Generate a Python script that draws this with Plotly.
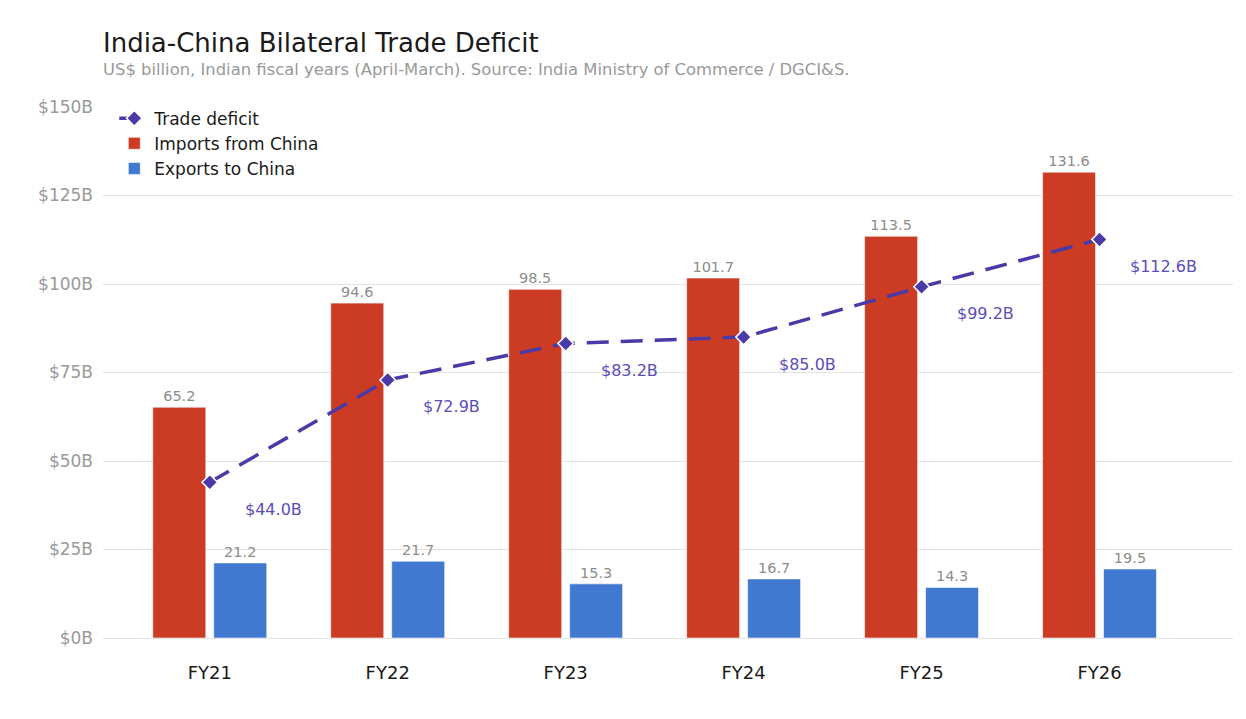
import plotly.graph_objects as go

# India-China trade, US$ billion
years = ["FY21", "FY22", "FY23", "FY24", "FY25", "FY26"]
imports_from_china = [65.2, 94.6, 98.5, 101.7, 113.5, 131.6]
exports_to_china = [21.2, 21.7, 15.3, 16.7, 14.3, 19.5]
trade_deficit = [44.0, 72.9, 83.2, 85.0, 99.2, 112.6]
y_ticks = [0, 25, 50, 75, 100, 125, 150]

FONT = "DejaVu Sans"
RED = "#cc3b23"
BLUE = "#4178d0"
PURPLE = "#4a3aa8"

fig = go.Figure()

fig.add_trace(go.Bar(
    x=years, y=imports_from_china, name="Imports from China",
    marker=dict(color=RED, line=dict(color="rgba(255,255,255,0.6)", width=1)),
    texttemplate="%{y:.1f}", textposition="outside",
    textfont=dict(size=14.5, color="#8c8c8c", family=FONT),
    cliponaxis=False, legendrank=2,
))
fig.add_trace(go.Bar(
    x=years, y=exports_to_china, name="Exports to China",
    marker=dict(color=BLUE, line=dict(color="rgba(255,255,255,0.6)", width=1)),
    texttemplate="%{y:.1f}", textposition="outside",
    textfont=dict(size=14.5, color="#8c8c8c", family=FONT),
    cliponaxis=False, legendrank=3,
))
fig.add_trace(go.Scatter(
    x=years, y=trade_deficit, name="Trade deficit",
    mode="lines+markers",
    line=dict(color=PURPLE, width=3.5, dash="22px,12px"),
    marker=dict(symbol="diamond", size=12, color=PURPLE, line=dict(color="white", width=1.5)),
    legendrank=1,
))

# deficit labels, offset right and below each marker
for yr, val in zip(years, trade_deficit):
    fig.add_annotation(
        x=yr, y=val, text=f"${val:.1f}B", showarrow=False,
        xshift=64, yshift=-27,
        font=dict(size=16, color="#5b4db8", family=FONT),
    )

# title and subtitle
fig.add_annotation(
    x=0, y=1.1205, xref="paper", yref="paper", xanchor="left", yanchor="middle",
    text="India-China Bilateral Trade Deficit", showarrow=False, xshift=-2,
    font=dict(size=26, color="#1a1a1a", family=FONT),
)
fig.add_annotation(
    x=0, y=1.0697, xref="paper", yref="paper", xanchor="left", yanchor="middle",
    text="US$ billion, Indian fiscal years (April-March). Source: India Ministry of Commerce / DGCI&S.",
    showarrow=False, xshift=-2, font=dict(size=16.4, color="#999999", family=FONT),
)

# page body has an 8px margin, so the figure is sized to fit inside it
fig.update_layout(
    width=1230, height=703,
    margin=dict(l=95, r=5, t=99, b=73),
    barmode="group", bargap=0.315, bargroupgap=0.13,
    plot_bgcolor="white", paper_bgcolor="white",
    font=dict(family=FONT),
    legend=dict(
        x=0.01, y=1.012, xanchor="left", yanchor="top",
        font=dict(size=17, color="#1a1a1a", family=FONT),
        bgcolor="rgba(255,255,255,0)", tracegroupgap=0,
    ),
    xaxis=dict(
        range=[-0.6, 5.75], showgrid=False, zeroline=False, showline=False,
        ticks="", ticklabelstandoff=22,
        tickfont=dict(size=18, color="#1a1a1a", family=FONT),
    ),
    yaxis=dict(
        range=[0, 150], tickmode="array", tickvals=y_ticks,
        ticktext=[f"${v}B" for v in y_ticks],
        showgrid=True, gridcolor="#e3e3e3", gridwidth=1,
        zeroline=True, zerolinecolor="#e3e3e3", zerolinewidth=1,
        showline=False, ticks="", ticklabelstandoff=9,
        tickfont=dict(size=17, color="#999999", family=FONT),
    ),
)

fig.write_html("out.html")
